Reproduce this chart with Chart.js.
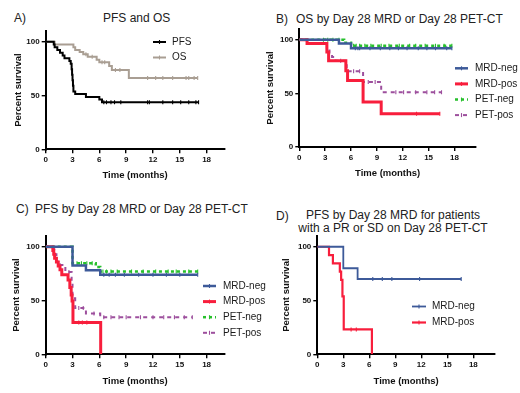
<!DOCTYPE html>
<html lang="en">
<head>
<meta charset="UTF-8">
<title>PFS and OS by Day 28 MRD / PET-CT</title>
<script src="https://cdn.jsdelivr.net/npm/chart.js@4.4.1/dist/chart.umd.min.js"></script>
<style>
  body { margin: 0; background: #fff; }
  #wrap { position: relative; width: 520px; height: 393px; overflow: hidden; font-family: 'Liberation Sans', Arial, sans-serif; }
  #wrap canvas { position: absolute; left: 0; top: 0; }
  .ttl { position: absolute; font-size: 12px; color: #222; white-space: nowrap; line-height: 14px; }
</style>
</head>
<body>
<div id="wrap">
  <div class="ttl" style="left:14px;top:11px">A)</div>
  <div class="ttl" style="left:103px;top:11px">PFS and OS</div>
  <div class="ttl" style="left:276px;top:12px">B)</div>
  <div class="ttl" style="left:296px;top:12px">OS by Day 28 MRD or Day 28 PET-CT</div>
  <div class="ttl" style="left:16px;top:202px">C)</div>
  <div class="ttl" style="left:35px;top:202px">PFS by Day 28 MRD or Day 28 PET-CT</div>
  <div class="ttl" style="left:276px;top:209px">D)</div>
  <div class="ttl" style="left:290px;top:209px;width:206px;text-align:center;line-height:12.5px">PFS by Day 28 MRD for patients<br>with a PR or SD on Day 28 PET-CT</div>
  <canvas id="chartA" width="520" height="393"></canvas>
  <canvas id="chartB" width="520" height="393"></canvas>
  <canvas id="chartC" width="520" height="393"></canvas>
  <canvas id="chartD" width="520" height="393"></canvas>
</div>
<script>
// ---- data: event times (months), survival after each event (%), censor times ----
// A) PFS and OS
const aPfsT = [0.9, 1.0, 1.3, 1.6, 1.9, 2.1, 2.65, 2.8, 2.9, 2.95, 3.0, 3.05, 3.1, 3.3, 4.5, 6.0, 6.3];
const aPfsS = [97.4, 94.9, 92.3, 89.7, 87.2, 84.6, 82.1, 79.5, 74.4, 69.2, 64.1, 59.0, 53.8, 51.3, 48.7, 46.2, 43.6];
const aPfsC = [6.5, 6.8, 7.3, 7.7, 8.4, 11.4, 11.6, 13.1, 14.2, 15.1, 16.0, 16.8, 17.1];
const aOsT = [1.0, 3.1, 3.3, 3.8, 4.2, 4.7, 5.7, 6.0, 7.1, 7.4, 9.3];
const aOsS = [97.4, 94.9, 92.3, 90.5, 88.2, 86.0, 83.2, 80.8, 77.4, 73.7, 66.3];
const aOsC = [4.5, 5.2, 6.3, 6.6, 7.8, 8.3, 11.4, 12.3, 13.1, 14.2, 15.7, 16.0, 16.6, 17.0];

// B) OS by Day 28 MRD or PET-CT
const bMrdNegT = [4.6, 6.0];
const bMrdNegS = [96.4, 92.0];
const bMrdNegC = [6.5, 6.8, 7.0, 8.2, 9.4, 10.5, 11.5, 12.5, 13.8, 14.8, 15.8, 17.1, 17.7];
const bMrdPosT = [0.9, 3.2, 3.4, 5.4, 5.6, 7.4, 9.5];
const bMrdPosS = [96.5, 88.5, 80.5, 71.0, 62.0, 42.0, 31.0];
const bMrdPosC = [13.6, 16.3];
const bPetNegT = [5.2, 6.0];
const bPetNegS = [97.1, 94.3];
const bPetNegC = [2.8, 3.3, 3.9, 4.6, 6.3, 6.6, 7.0, 7.6, 8.3, 9.5, 10.4, 11.6, 12.8, 13.5, 14.6, 15.8, 16.8, 17.7];
const bPetPosT = [3.2, 3.5, 3.8, 4.2, 5.5, 7.4, 9.5];
const bPetPosS = [92.5, 88.0, 84.0, 80.5, 70.5, 60.5, 51.0];
const bPetPosC = [4.8, 6.3, 7.0, 8.0, 8.8, 11.2, 12.1, 13.5, 14.8, 15.7, 16.5];

// C) PFS by Day 28 MRD or PET-CT
const cMrdNegT = [3.0, 4.5, 6.1];
const cMrdNegS = [82.4, 78.0, 74.0];
const cMrdNegC = [6.5, 7.1, 7.8, 8.8, 10.4, 12.0, 13.5, 15.0, 17.0];
const cMrdPosT = [0.8, 0.9, 1.0, 1.2, 1.4, 1.6, 1.8, 2.5, 2.7, 2.85, 2.95, 3.05, 6.15];
const cMrdPosS = [96.4, 92.9, 89.3, 85.7, 82.1, 78.6, 74.0, 69.0, 62.0, 55.0, 49.5, 29.6, 0];
const cMrdPosC = [3.7, 4.1, 4.6];
const cPetNegT = [3.0, 5.6, 6.1];
const cPetNegS = [84.6, 81.0, 77.0];
const cPetNegC = [3.5, 4.0, 4.6, 5.2, 6.4, 6.8, 7.3, 8.0, 9.6, 10.9, 12.3, 13.7, 14.6, 16.0, 17.0];
const cPetPosT = [0.95, 1.2, 1.4, 2.2, 2.9, 3.0, 3.3, 4.5, 6.1];
const cPetPosS = [93.0, 86.0, 83.0, 76.5, 66.0, 52.0, 43.0, 38.0, 34.5];
const cPetPosC = [1.6, 2.6, 3.7, 4.2, 5.4, 6.5, 7.3, 8.2, 9.0, 10.6, 12.0, 13.2, 14.4, 15.5, 16.4];

// D) PFS by Day 28 MRD, PR or SD on PET-CT
const dMrdNegT = [3.0, 4.65];
const dMrdNegS = [80.0, 70.0];
const dMrdNegC = [6.4, 7.5, 8.6, 11.8, 16.6];
const dMrdPosT = [1.35, 1.8, 2.6, 2.75, 2.9, 3.05, 6.3];
const dMrdPosS = [92.3, 84.6, 76.9, 69.2, 53.8, 23.1, 0];
const dMrdPosC = [3.9, 4.5];

const xTicks = [0, 3, 6, 9, 12, 15, 18];
const yTicks = [0, 50, 100];

// ---- styles ----
const BLUE = '#3d5a99', RED = '#f81e3c', GREEN = '#27c02c', PURPLE = '#9d4f9d';
const FONT = "'Liberation Sans', Arial, sans-serif";
Chart.defaults.font.family = FONT;
Chart.defaults.color = '#111';

// build one step curve: start at 100, events drop, censors are tick marks
function curve(label, times, surv, cens, style) {
  const pts = [{ x: 0, y: 100, c: false }];
  times.forEach((t, i) => pts.push({ x: t, y: surv[i], c: false }));
  cens.forEach(t => {
    let s = 100;
    times.forEach((tt, i) => { if (tt <= t) s = surv[i]; });
    pts.push({ x: t, y: s, c: true });
  });
  pts.sort((a, b) => a.x - b.x);
  return Object.assign({
    label: label,
    data: pts,
    stepped: true,
    fill: false,
    pointStyle: 'line',
    pointRotation: 90,
    pointRadius: pts.map(p => p.c ? 2 : 0),
    pointHoverRadius: 0,
    pointBorderWidth: 1.1
  }, style);
}

// legend drawn inside the panel like the original
const kmLegend = {
  id: 'kmLegend',
  afterDraw(chart, args, o) {
    const ctx = chart.ctx;
    ctx.save();
    ctx.font = o.size + 'px ' + FONT;
    ctx.textBaseline = 'middle';
    chart.data.datasets.forEach((ds, i) => {
      const y = o.y + i * o.gap;
      ctx.strokeStyle = ds.borderColor;
      ctx.lineWidth = ds.borderWidth;
      ctx.setLineDash(ds.borderDash || []);
      ctx.beginPath();
      ctx.moveTo(o.x, y);
      ctx.lineTo(o.x + o.len, y);
      ctx.stroke();
      ctx.setLineDash([]);
      ctx.lineWidth = 1.1;
      const mx = o.x + o.len / 2;
      ctx.beginPath();
      ctx.moveTo(mx, y - 2);
      ctx.lineTo(mx, y + 2);
      ctx.stroke();
      ctx.fillStyle = '#1a1a1a';
      ctx.fillText(ds.label, o.x + o.len + o.pad, y);
    });
    ctx.restore();
  }
};

function makeChart(id, box, xMax, datasets, legend) {
  const half = 5.7; // half line height of axis titles
  new Chart(document.getElementById(id), {
    type: 'line',
    data: { datasets: datasets },
    plugins: [kmLegend],
    options: {
      responsive: false,
      animation: false,
      events: [],
      layout: {
        padding: {
          left: box.yTitleX - half,
          top: box.top,
          right: 520 - box.right,
          bottom: 393 - (box.xTitleY + half)
        }
      },
      plugins: {
        legend: { display: false },
        tooltip: { enabled: false },
        kmLegend: legend
      },
      scales: {
        x: {
          type: 'linear',
          min: 0,
          max: xMax,
          afterBuildTicks: s => { s.ticks = xTicks.map(v => ({ value: v })); },
          afterFit: s => { s.height = box.xTitleY + half - box.bottom; },
          ticks: { font: { size: 8, weight: 'bold' }, color: '#111', padding: 2, maxRotation: 0 },
          grid: { drawOnChartArea: false, drawTicks: true, tickLength: 4, color: '#000', lineWidth: 1.4 },
          border: { display: true, color: '#000', width: 2 },
          title: { display: true, text: 'Time (months)', font: { size: 9.5, weight: 'bold' }, color: '#111', padding: 0 }
        },
        y: {
          type: 'linear',
          min: 0,
          max: 110,
          afterBuildTicks: s => { s.ticks = yTicks.map(v => ({ value: v })); },
          afterFit: s => { s.width = box.left - (box.yTitleX - half); },
          ticks: { font: { size: 8, weight: 'bold' }, color: '#111', padding: 2 },
          grid: { drawOnChartArea: false, drawTicks: true, tickLength: 4, color: '#000', lineWidth: 1.4 },
          border: { display: true, color: '#000', width: 2 },
          title: { display: true, text: 'Percent survival', font: { size: 9.5, weight: 'bold' }, color: '#111', padding: 0 }
        }
      }
    }
  });
}

const solid = (c, w) => ({ borderColor: c, borderWidth: w });
const dashed = (c, w, d) => ({ borderColor: c, borderWidth: w, borderDash: d });

makeChart('chartA', { left: 45.7, right: 224.5, top: 30.9, bottom: 149.3, yTitleX: 18.3, xTitleY: 175.7 }, 20, [
  curve('PFS', aPfsT, aPfsS, aPfsC, solid('#000', 2)),
  curve('OS', aOsT, aOsS, aOsC, solid('#a99e93', 2))
], { x: 153, y: 42, gap: 15.5, len: 13, pad: 6, size: 10 });

makeChart('chartB', { left: 299.3, right: 476, top: 29, bottom: 147, yTitleX: 270, xTitleY: 173.3 }, 20.5, [
  curve('MRD-neg', bMrdNegT, bMrdNegS, bMrdNegC, solid(BLUE, 2.5)),
  curve('MRD-pos', bMrdPosT, bMrdPosS, bMrdPosC, solid(RED, 3)),
  curve('PET-neg', bPetNegT, bPetNegS, bPetNegC, dashed(GREEN, 2.5, [3, 3])),
  curve('PET-pos', bPetPosT, bPetPosS, bPetPosC, dashed(PURPLE, 2, [4, 4]))
], { x: 455, y: 68.3, gap: 15.6, len: 13, pad: 7, size: 10 });

makeChart('chartC', { left: 45.7, right: 224.5, top: 235.9, bottom: 354.3, yTitleX: 16, xTitleY: 381 }, 20, [
  curve('MRD-neg', cMrdNegT, cMrdNegS, cMrdNegC, solid(BLUE, 2.5)),
  curve('MRD-pos', cMrdPosT, cMrdPosS, cMrdPosC, solid(RED, 3)),
  curve('PET-neg', cPetNegT, cPetNegS, cPetNegC, dashed(GREEN, 2.5, [3, 3])),
  curve('PET-pos', cPetPosT, cPetPosS, cPetPosC, dashed(PURPLE, 2, [4, 4]))
], { x: 203, y: 286, gap: 15.6, len: 13, pad: 7, size: 10 });

makeChart('chartD', { left: 317.3, right: 495, top: 236, bottom: 354.3, yTitleX: 286.7, xTitleY: 381.7 }, 20.5, [
  curve('MRD-neg', dMrdNegT, dMrdNegS, dMrdNegC, solid(BLUE, 1.8)),
  curve('MRD-pos', dMrdPosT, dMrdPosS, dMrdPosC, solid(RED, 2.2))
], { x: 412, y: 306.5, gap: 16, len: 14, pad: 6, size: 10 });
</script>
</body>
</html>
